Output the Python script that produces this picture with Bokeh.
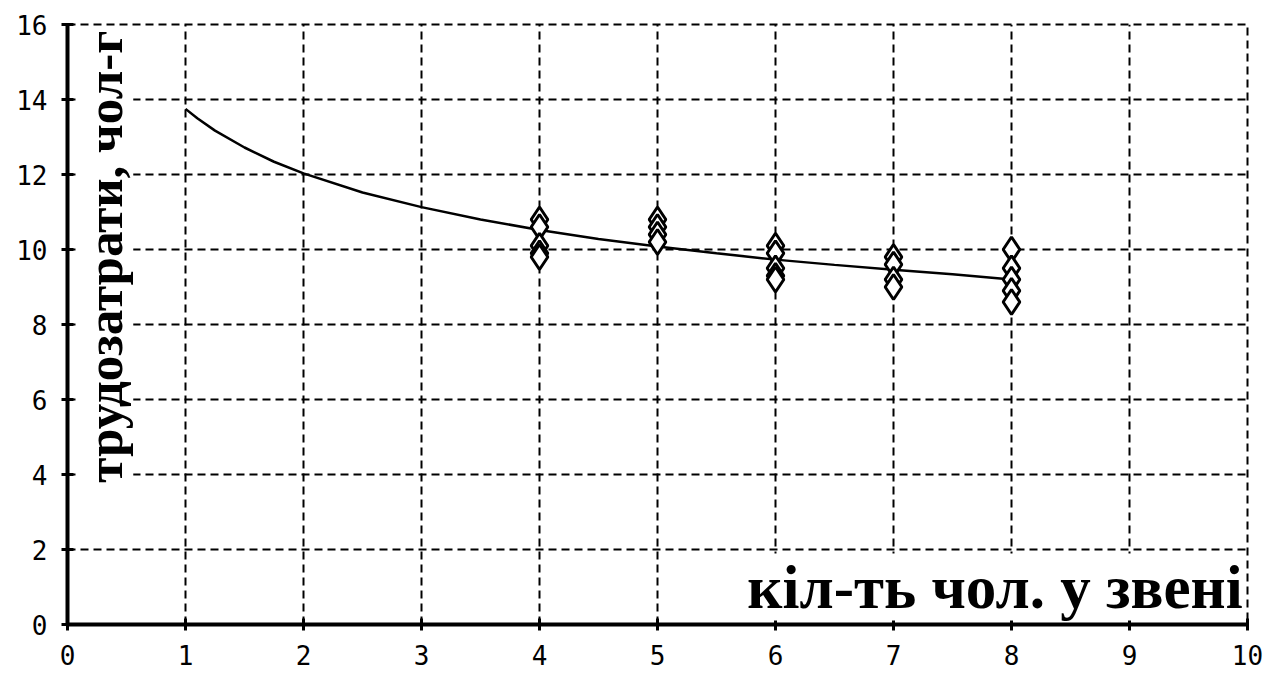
import math
from bokeh.plotting import figure
from bokeh.models import Label, Range1d, FixedTicker
from bokeh.embed import file_html
from bokeh.resources import INLINE

# Scatter data (crew size vs labour cost)
x4 = [4, 4, 4, 4, 4]
y4 = [10.8, 10.6, 10.1, 9.9, 9.8]
x5 = [5, 5, 5, 5]
y5 = [10.8, 10.6, 10.4, 10.2]
x6 = [6, 6, 6, 6, 6]
y6 = [10.1, 9.9, 9.5, 9.3, 9.2]
x7 = [7, 7, 7, 7]
y7 = [9.8, 9.6, 9.2, 9.0]
x8 = [8, 8, 8, 8, 8]
y8 = [10.0, 9.5, 9.2, 8.9, 8.6]

# Trend line values
trend_x = [1, 1.1, 1.25, 1.5, 1.75, 2, 2.5, 3, 3.5, 4, 4.5, 5, 5.5, 6, 6.5, 7, 7.5, 8]
trend_y = [13.75, 13.50, 13.17, 12.72, 12.34, 12.03, 11.52, 11.13, 10.80, 10.52, 10.28,
           10.08, 9.90, 9.73, 9.59, 9.46, 9.34, 9.20]

x_ticks = [0, 1, 2, 3, 4, 5, 6, 7, 8, 9, 10]
y_ticks = [0, 2, 4, 6, 8, 10, 12, 14, 16]

x_title = "кіл-ть чол. у звені"
y_title = "трудозатрати, чол-г"

xs = x4 + x5 + x6 + x7 + x8
ys = y4 + y5 + y6 + y7 + y8

p = figure(width=1281, height=686, output_backend="svg", toolbar_location=None,
           x_range=Range1d(0, 10), y_range=Range1d(0, 16),
           min_border_left=67, min_border_right=34, min_border_top=24, min_border_bottom=62)
p.background_fill_color = "white"
p.border_fill_color = "white"
p.outline_line_color = "black"
p.outline_line_width = 2
p.outline_line_dash = "8 5"

for ax, ticks in ((p.xaxis[0], x_ticks), (p.yaxis[0], y_ticks)):
    ax.ticker = FixedTicker(ticks=ticks)
    ax.axis_line_color = "black"
    ax.axis_line_width = 4
    ax.major_tick_line_color = "black"
    ax.major_tick_line_width = 3
    ax.major_tick_in = 6
    ax.major_tick_out = 6
    ax.minor_tick_line_color = None
    ax.major_label_text_font = "DejaVu Sans Mono"
    ax.major_label_text_font_size = "26px"
    ax.major_label_text_color = "black"
    ax.major_label_standoff = 14

for g in (p.xgrid[0], p.ygrid[0]):
    g.grid_line_color = "black"
    g.grid_line_width = 2
    g.grid_line_dash = "8 5"

p.line(trend_x, trend_y, line_color="black", line_width=2.5)
p.scatter(xs, ys, marker="diamond", size=25, fill_color="white",
          line_color="black", line_width=3)

p.add_layout(Label(x=7.86, y=1.0, text=x_title, text_font="Liberation Serif",
                   text_font_style="bold", text_font_size="61px", text_color="black",
                   text_align="center", text_baseline="middle",
                   background_fill_color="white"))
p.add_layout(Label(x=0.32, y=9.81, text=y_title, text_font="Liberation Serif",
                   text_font_style="bold", text_font_size="51px", text_color="black",
                   text_align="center", text_baseline="middle", angle=math.pi / 2,
                   background_fill_color="white"))

open("out.html", "w").write(file_html(p, INLINE))
